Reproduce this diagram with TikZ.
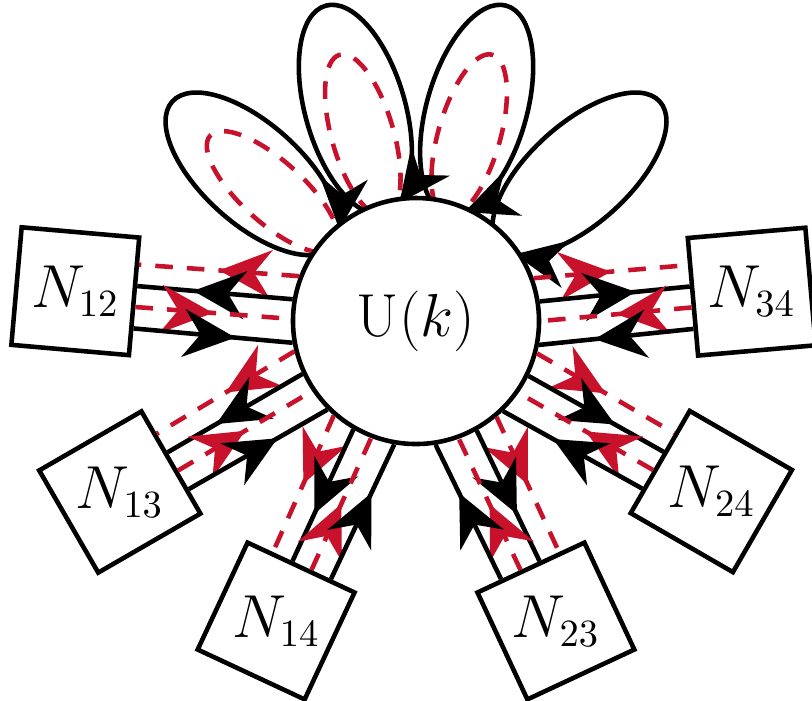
\documentclass[tikz,border=0pt]{standalone}
\usepackage{tikz}
\usetikzlibrary{arrows.meta,calc,decorations.markings,backgrounds}
\definecolor{lred}{RGB}{200,18,44}

\begin{document}
\begin{tikzpicture}[
  >={Stealth[length=0.52cm,width=0.48cm,inset=0.17cm]},
  box/.style={draw,line width=1.3pt,fill=white,minimum size=1.18cm,inner sep=0pt},
  lbl/.style={font=\fontsize{16}{19}\selectfont},
  bl/.style={line width=1.3pt,postaction={decorate,decoration={markings,mark=at position 0.64 with {\arrow{>}}}}},
  rd/.style={lred,line width=1.3pt,dash pattern=on 5pt off 4pt,postaction={decorate,decoration={markings,mark=at position 0.5 with {\arrow{>}}}}},
  lpb/.style={line width=1.3pt,postaction={decorate,decoration={markings,mark=at position 0.535 with {\arrowreversed{>}}}}},
  lpr/.style={lred,line width=1.3pt,dash pattern=on 5pt off 4pt},
]
\useasboundingbox (-4.16,-3.79) rectangle (3.96,3.21);
% ---------- central node ----------
\node[draw,circle,line width=1.3pt,fill=white,minimum size=2.46cm,lbl] (u) at (0,0) {$\mathrm{U}(k)$};
% ---------- self loops, behind u ----------
\begin{scope}[on background layer]
\foreach \a in {138,106,74,42}
  \draw[lpb,rotate=\a] (2.2,0) ellipse [x radius=1.08cm,y radius=0.5cm];
\foreach \a in {138,106,74}
  \draw[lpr,rotate=\a] (1.93,0) ellipse [x radius=0.84cm,y radius=0.31cm];
\end{scope}
% ---------- boxes ----------
\node[box,rotate=175] (n12) at (175:3.42) {};
\node[lbl] (l12) at (n12) {$N_{12}$};
\node[box,rotate=210] (n13) at (210:3.42) {};
\node[lbl] (l13) at (n13) {$N_{13}$};
\node[box,rotate=245] (n14) at (245:3.31) {};
\node[lbl] (l14) at (n14) {$N_{14}$};
\node[box,rotate=295] (n23) at (295:3.31) {};
\node[lbl] (l23) at (n23) {$N_{23}$};
\node[box,rotate=330] (n24) at (330:3.41) {};
\node[lbl] (l24) at (n24) {$N_{24}$};
\node[box,rotate=5] (n34) at (5:3.37) {};
\node[lbl] (l34) at (n34) {$N_{34}$};
% ---------- N12 ----------
\draw[rd] (u.159.9) -- ($(n12.west)!0.32cm!(n12.south west)$);
\draw[bl] (u.170.1) -- ($(n12.west)!0.105cm!(n12.south west)$);
\draw[rd] ($(n12.west)!0.105cm!(n12.north west)$) -- (u.179.9);
\draw[bl] ($(n12.west)!0.32cm!(n12.north west)$) -- (u.190.1);
% ---------- N13 ----------
\draw[rd] (u.194.9) -- ($(n13.west)!0.32cm!(n13.south west)$);
\draw[bl] (u.205.1) -- ($(n13.west)!0.105cm!(n13.south west)$);
\draw[rd] ($(n13.west)!0.105cm!(n13.north west)$) -- (u.214.9);
\draw[bl] ($(n13.west)!0.32cm!(n13.north west)$) -- (u.225.1);
% ---------- N14 ----------
\draw[rd] (u.229.9) -- ($(n14.west)!0.32cm!(n14.south west)$);
\draw[bl] (u.240.1) -- ($(n14.west)!0.105cm!(n14.south west)$);
\draw[rd] ($(n14.west)!0.105cm!(n14.north west)$) -- (u.249.9);
\draw[bl] ($(n14.west)!0.32cm!(n14.north west)$) -- (u.260.1);
% ---------- N23 ----------
\draw[rd] (u.310.1) -- ($(n23.west)!0.32cm!(n23.north west)$);
\draw[bl] (u.299.9) -- ($(n23.west)!0.105cm!(n23.north west)$);
\draw[rd] ($(n23.west)!0.105cm!(n23.south west)$) -- (u.290.1);
\draw[bl] ($(n23.west)!0.32cm!(n23.south west)$) -- (u.279.9);
% ---------- N24 ----------
\draw[rd] (u.345.1) -- ($(n24.west)!0.32cm!(n24.north west)$);
\draw[bl] (u.334.9) -- ($(n24.west)!0.105cm!(n24.north west)$);
\draw[rd] ($(n24.west)!0.105cm!(n24.south west)$) -- (u.325.1);
\draw[bl] ($(n24.west)!0.32cm!(n24.south west)$) -- (u.314.9);
% ---------- N34 ----------
\draw[rd] (u.20.1) -- ($(n34.west)!0.32cm!(n34.north west)$);
\draw[bl] (u.9.9) -- ($(n34.west)!0.105cm!(n34.north west)$);
\draw[rd] ($(n34.west)!0.105cm!(n34.south west)$) -- (u.0.1);
\draw[bl] ($(n34.west)!0.32cm!(n34.south west)$) -- (u.349.9);
\end{tikzpicture}
\end{document}
